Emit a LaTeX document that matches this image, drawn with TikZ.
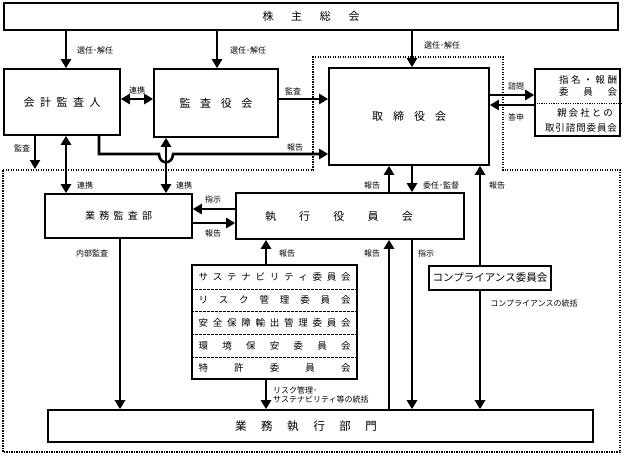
\documentclass[tikz,border=0pt]{standalone}
\usepackage{fontspec}
\setmainfont{Noto Sans CJK JP}
\usetikzlibrary{arrows.meta}
\newcommand\sprd[2]{\makebox[#1][s]{#2}}
\begin{document}
\begin{tikzpicture}[x=1pt,y=-1pt,
  box/.style={draw, line width=1.6pt, inner sep=0pt, align=center},
  arr/.style={line width=2.6pt, -{Triangle[length=9pt,width=10pt]}},
  darr/.style={line width=2.6pt, {Triangle[length=9pt,width=10pt]}-{Triangle[length=9pt,width=10pt]}},
  lbl/.style={font=\fontsize{8}{9.5}\selectfont, inner sep=0pt},
  big/.style={font=\fontsize{11}{13}\selectfont},
  row/.style={font=\fontsize{9.5}{11}\selectfont, inner sep=0pt},
  divider/.style={line width=1pt, dash pattern=on 2.5pt off 1.5pt},
  region/.style={line width=1.2pt, dash pattern=on 1.2pt off 1.3pt}
]
\useasboundingbox (0,0) rectangle (624,456);

% dotted region
\draw[region] (3,170) -- (313,170) -- (313,57) -- (503,57) -- (503,170) -- (620,170) -- (620,452) -- (3,452) -- cycle;

% boxes
\node[box, big, minimum width=614pt, minimum height=27pt] (kabu) at (311,16.5)
  {\sprd{97pt}{株\hfil 主\hfil 総\hfil 会}};
\node[box, big, minimum width=116pt, minimum height=66pt] (kaikei) at (62,102)
  {\sprd{77pt}{会\hfil 計\hfil 監\hfil 査\hfil 人}};
\node[box, big, minimum width=124pt, minimum height=68pt] (kansayaku) at (216,103)
  {\sprd{73pt}{監\hfil 査\hfil 役\hfil 会}};
\node[box, big, minimum width=160pt, minimum height=97pt] (tori) at (409,116.5)
  {\sprd{74pt}{取\hfil 締\hfil 役\hfil 会}};
\node[box, minimum width=85pt, minimum height=67pt] (shimei) at (577.5,102.5) {};
\node[box, font=\fontsize{10}{12}\selectfont, minimum width=147pt, minimum height=44pt] (gkansa) at (118.5,216)
  {\sprd{67pt}{業\hfil 務\hfil 監\hfil 査\hfil 部}};
\node[box, big, minimum width=228pt, minimum height=46pt] (shikko) at (350,216)
  {\sprd{148pt}{執\hfil 行\hfil 役\hfil 員\hfil 会}\hspace{22pt}};
\node[box, minimum width=165pt, minimum height=114pt] (stack) at (274.5,322) {};
\node[box, font=\fontsize{10.5}{12}\selectfont, minimum width=122pt, minimum height=24pt] (comp) at (490,278)
  {コンプライアンス委員会};
\node[box, font=\fontsize{11.5}{13}\selectfont, minimum width=545pt, minimum height=32pt] (gshikko) at (320.5,426)
  {\sprd{142pt}{業\hfil 務\hfil 執\hfil 行\hfil 部\hfil 門}\hspace{29pt}};

% stack rows
\draw[divider] (stack.west |- 0,289) -- (stack.east |- 0,289);
\draw[divider] (stack.west |- 0,311) -- (stack.east |- 0,311);
\draw[divider] (stack.west |- 0,334) -- (stack.east |- 0,334);
\draw[divider] (stack.west |- 0,357) -- (stack.east |- 0,357);
\node[row] (r1) at (274.5,277) {\sprd{152pt}{サ\hfil ス\hfil テ\hfil ナ\hfil ビ\hfil リ\hfil テ\hfil ィ\hfil 委\hfil 員\hfil 会}};
\node[row] (r2) at (274.5,300) {\sprd{152pt}{リ\hfil ス\hfil ク\hfil 管\hfil 理\hfil 委\hfil 員\hfil 会}};
\node[row] (r3) at (274.5,322.5) {\sprd{152pt}{安\hfil 全\hfil 保\hfil 障\hfil 輸\hfil 出\hfil 管\hfil 理\hfil 委\hfil 員\hfil 会}};
\node[row] (r4) at (274.5,345.5) {\sprd{152pt}{環\hfil 境\hfil 保\hfil 安\hfil 委\hfil 員\hfil 会}};
\node[row] (r5) at (274.5,368) {\sprd{152pt}{特\hfil 許\hfil 委\hfil 員\hfil 会}};

% shimei box contents
\draw[line width=1pt, dash pattern=on 1.2pt off 1.2pt] (shimei.west |- 0,103) -- (shimei.east |- 0,103);
\node[row] (s1) at (588,80) {\sprd{58pt}{指\hfil 名\hfil ・\hfil 報\hfil 酬}};
\node[row] (s2) at (588,92) {\sprd{58pt}{委\hfil 員\hfil 会}};
\node[row] (s3) at (585,113) {\sprd{56pt}{親\hfil 会\hfil 社\hfil と\hfil の}};
\node[row] (s4) at (581,128) {\sprd{72pt}{取\hfil 引\hfil 諮\hfil 問\hfil 委\hfil 員\hfil 会}};

% reference positions
\coordinate (xA) at (66,0);
\coordinate (xB) at (217,0);
\coordinate (xC) at (412,0);
\coordinate (xD) at (99,0);
\coordinate (xE) at (166,0);
\coordinate (xF) at (35,0);
\coordinate (xG) at (389,0);
\coordinate (xH) at (480,0);
\coordinate (xI) at (120,0);
\coordinate (xJ) at (266,0);
\coordinate (yA) at (0,99);
\coordinate (yB) at (0,154);
\coordinate (yC) at (0,95);
\coordinate (yD) at (0,105);
\coordinate (yE) at (0,209);
\coordinate (yF) at (0,223);
\coordinate (hop1) at (159,154);
\coordinate (hop2) at (173,154);
\coordinate (kansaEnd) at (35,169);

% connectors
\draw[arr] (kabu.south -| xA) -- (kaikei.north -| xA);
\draw[arr] (kabu.south -| xB) -- (kansayaku.north -| xB);
\draw[arr] (kabu.south -| xC) -- (tori.north -| xC);
\draw[darr] (kaikei.east |- yA) -- (kansayaku.west |- yA);
\draw[arr] (kansayaku.east |- yA) -- (tori.west |- yA);
\draw[arr] (kaikei.south -| xD) |- (hop1) .. controls (159,165) and (173,165) .. (hop2) -- (tori.west |- yB);
\draw[darr] (kaikei.south -| xA) -- (gkansa.north -| xA);
\draw[darr] (kansayaku.south -| xE) -- (gkansa.north -| xE);
\draw[arr] (kaikei.south -| xF) -- (kansaEnd);
\draw[arr] (tori.east |- yC) -- (shimei.west |- yC);
\draw[arr] (shimei.west |- yD) -- (tori.east |- yD);
\draw[arr] (shikko.north -| xG) -- (tori.south -| xG);
\draw[arr] (tori.south -| xC) -- (shikko.north -| xC);
\draw[arr] (comp.north -| xH) -- (tori.south -| xH);
\draw[arr] (shikko.west |- yE) -- (gkansa.east |- yE);
\draw[arr] (gkansa.east |- yF) -- (shikko.west |- yF);
\draw[arr] (stack.north -| xJ) -- (shikko.south -| xJ);
\draw[arr] (gkansa.south -| xI) -- (gshikko.north -| xI);
\draw[arr] (stack.south -| xJ) -- (gshikko.north -| xJ);
\draw[arr] (gshikko.north -| xG) -- (shikko.south -| xG);
\draw[arr] (shikko.south -| xC) -- (gshikko.north -| xC);
\draw[arr] (comp.south -| xH) -- (gshikko.north -| xH);

% labels
\node[lbl] (l1) at (95,50) {選任･解任};
\node[lbl] (l2) at (248,50) {選任･解任};
\node[lbl] (l3) at (442,45) {選任･解任};
\node[lbl] (l4) at (137,90) {連携};
\node[lbl] (l5) at (293,91) {監査};
\node[lbl] (l6) at (295,147) {報告};
\node[lbl] (l7) at (22,148) {監査};
\node[lbl] (l8) at (85,185) {連携};
\node[lbl] (l9) at (184,185) {連携};
\node[lbl] (l10) at (213,199) {指示};
\node[lbl] (l11) at (213,233) {報告};
\node[lbl] (l12) at (92,253) {内部監査};
\node[lbl] (l13) at (287,253) {報告};
\node[lbl] (l14) at (372,185) {報告};
\node[lbl] (l15) at (441,185) {委任･監督};
\node[lbl] (l16) at (497,185) {報告};
\node[lbl] (l17) at (372,253) {報告};
\node[lbl] (l18) at (426,253) {指示};
\node[lbl] (l19) at (534,303) {コンプライアンスの統括};
\node[lbl, anchor=west, align=left] (l20) at (273,395) {リスク管理･\\サステナビリティ等の統括};
\node[lbl] (l21) at (516,86) {諮問};
\node[lbl] (l22) at (516,117) {答申};
\end{tikzpicture}
\end{document}
